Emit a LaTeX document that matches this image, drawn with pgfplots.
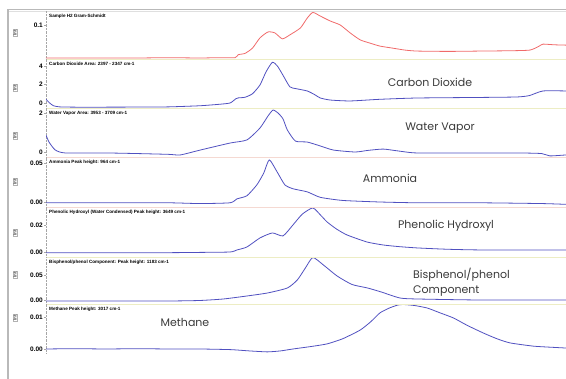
\documentclass[border=0pt]{standalone}
\usepackage{pgfplots}
\pgfplotsset{compat=1.18}
\usepackage{fontspec}
\setmainfont{Liberation Sans}
\newfontfamily\labfont{Poppins}
\definecolor{tr}{HTML}{F06A6A}
\definecolor{tb}{HTML}{5050C0}
\definecolor{sepy}{HTML}{EDEDC4}
\definecolor{sepp}{HTML}{F5D9D2}
\definecolor{lab}{HTML}{3A3A3A}

\pgfplotsset{
  panel/.style={
    scale only axis, width=520pt, anchor=south west,
    xmin=0.3, xmax=83.9,
    axis x line=none, axis y line*=left,
    y axis line style={gray!70, densely dotted},
    ytick style={gray!70, thin},
    tick align=outside, major tick length=2pt,
    scaled y ticks=false,
    /pgf/number format/assume math mode=true,
    yticklabel style={font=\fontsize{6.5}{7}\selectfont\bfseries, inner sep=1pt},
    every axis plot/.append style={line width=0.8pt, smooth, tension=0.35},
    clip=true,
  },
}
\tikzset{ptitle/.style={anchor=north west, font=\fontsize{4.6}{5}\selectfont\bfseries, inner sep=0pt, xshift=3pt, yshift=-3pt}}

\begin{document}
\begin{tikzpicture}[x=1pt,y=1pt]
\path[use as bounding box] (0,0) rectangle (566,379);
% window frame
\draw[gray!55, line width=1.6pt] (8,0) -- (8,369.5) -- (566,369.5);
\draw[gray!25, line width=0.6pt] (9,367.8) -- (566,367.8);

% Panel 1
\begin{axis}[panel, at={(46pt,320pt)}, height=48pt, ymin=-0.003, ymax=0.1424,
  ytick={0.1}, yticklabels={0.1}]
\addplot[tr] coordinates {
(0.3,0.000) (5,0.000) (10,0.000) (15,0.000) (20,0.001) (25,0.000) (28,0.001) (30.7,0.001)
(31.2,0.010) (32.3,0.014) (33.5,0.030) (34.7,0.061) (36.0,0.079) (37.1,0.076) (38.3,0.058)
(39.5,0.070) (41.2,0.091) (42.3,0.121) (43.2,0.138) (44.4,0.127) (46.0,0.112) (47.6,0.100)
(49.2,0.076) (50.8,0.055) (52.4,0.045) (54.0,0.036) (56.0,0.030) (58.0,0.024) (60.0,0.021)
(65,0.020) (70,0.021) (75,0.022) (78.1,0.024) (79.5,0.035) (80.2,0.042) (82,0.040) (83.9,0.039)};
\node[ptitle] at (rel axis cs:0,1) {Sample H2 Gram-Schmidt};
\end{axis}

% Panel 2
\begin{axis}[panel, at={(46pt,271pt)}, height=49pt, ymin=-0.541, ymax=4.757,
  ytick={0,2,4}, yticklabels={0,2,4}]
\addplot[tb] coordinates {
(0.3,0.40) (0.8,0.05) (1.5,-0.30) (2.5,-0.42) (5,-0.45) (10,-0.45) (15,-0.44) (20,-0.42)
(25,-0.30) (28,-0.15) (29.9,0.00) (30.8,0.45) (31.2,0.55) (32.3,0.62) (33.5,1.00) (34.7,1.95)
(35.7,3.40) (36.7,4.40) (37.5,4.00) (38.4,3.00) (39.5,1.75) (40.5,1.55) (42.3,1.30) (43.5,0.90)
(44.4,0.54) (46.0,0.32) (49.2,0.22) (54,0.40) (60,0.54) (70,0.60) (76,0.65) (78,0.80)
(80.2,1.30) (83.9,1.30)};
\node[ptitle] at (rel axis cs:0,1) {Carbon Dioxide Area: 2397 - 2347 cm-1};
\end{axis}

% Panel 3
\begin{axis}[panel, at={(46pt,222pt)}, height=49pt, ymin=-0.256, ymax=2.256,
  ytick={0,2}, yticklabels={0,2}]
\addplot[tb] coordinates {
(0.3,0.87) (0.8,0.50) (1.8,0.10) (3.4,-0.05) (10,-0.05) (15,-0.08) (20,-0.12) (21.9,-0.15)
(25.1,0.10) (29.9,0.46) (32.6,0.62) (34.7,1.23) (36.0,1.85) (36.8,2.15) (37.6,2.00) (38.4,1.70)
(39.1,1.13) (40.4,0.56) (42.3,0.51) (44.4,0.31) (46.5,0.10) (50,0.00) (52,0.08) (54.5,0.15)
(57,0.05) (60,-0.05) (70,-0.05) (76.5,-0.05) (80,-0.08) (81.3,-0.20) (83.9,-0.15)};
\node[ptitle] at (rel axis cs:0,1) {Water Vapor Area: 3953 - 3709 cm-1};
\end{axis}

% Panel 4
\begin{axis}[panel, at={(46pt,172pt)}, height=50pt, ymin=-0.0064, ymax=0.0577,
  ytick={0,0.05}, yticklabels={0.00,0.05}]
\addplot[tb] coordinates {
(0.3,-0.001) (10,-0.001) (20,-0.001) (25,-0.002) (29.9,-0.001) (31.0,0.004) (32.6,0.008)
(34.2,0.022) (35.3,0.037) (36.2,0.054) (37.5,0.038) (38.7,0.022) (40.0,0.017) (42.3,0.013)
(44.4,0.006) (48,0.002) (54,0.000) (60,-0.001) (70,-0.001) (80,-0.002) (83.9,-0.003)};
\node[ptitle] at (rel axis cs:0,1) {Ammonia Peak height: 964 cm-1};
\end{axis}

% Panel 5
\begin{axis}[panel, at={(46pt,122pt)}, height=50pt, ymin=-0.0037, ymax=0.0333,
  ytick={0,0.02}, yticklabels={0.00,0.02}]
\addplot[tb] coordinates {
(0.3,-0.0005) (10,-0.0005) (20,-0.0005) (25,-0.0003) (29.9,0.0000) (31,0.0015) (32.6,0.0037)
(34.7,0.0104) (36.7,0.0141) (38.4,0.0119) (40.0,0.0200) (41.5,0.0280) (43.2,0.0326)
(44.5,0.0270) (45.5,0.0222) (47,0.0170) (48.7,0.0126) (51.9,0.0074) (54.5,0.0052)
(57,0.0040) (60,0.0030) (65,0.0020) (70.6,0.0015) (83.9,0.0015)};
\node[ptitle] at (rel axis cs:0,1) {Phenolic Hydroxyl (Water Condensed) Peak height: 3649 cm-1};
\end{axis}

% Panel 6
\begin{axis}[panel, at={(46pt,75pt)}, height=47pt, ymin=-0.008, ymax=0.086,
  ytick={0,0.05}, yticklabels={0.00,0.05}]
\addplot[tb] coordinates {
(0.3,-0.002) (10,-0.002) (20,-0.002) (25,-0.001) (28.8,0.002) (32.6,0.008) (35.9,0.014)
(39.1,0.024) (40.7,0.040) (42.0,0.064) (43.2,0.085) (44.9,0.070) (47.1,0.048) (49.5,0.031)
(52,0.024) (54.2,0.016) (57.2,0.004) (60,0.002) (70,0.000) (83.9,0.000)};
\node[ptitle] at (rel axis cs:0,1) {Bisphenol/phenol Component: Peak height: 1183 cm-1};
\end{axis}

% Panel 7
\begin{axis}[panel, at={(46pt,26pt)}, height=49pt, ymin=-0.00125, ymax=0.01406,
  ytick={0,0.01}, yticklabels={0.00,0.01},
  axis x line*=bottom, x axis line style={gray!80},
  xtick={10,20,...,80}, minor x tick num=3, xtick style={gray!80, thin},
  minor tick length=1.5pt,
  xticklabel style={font=\fontsize{6.5}{7}\selectfont\bfseries, inner sep=1pt, yshift=-2pt},
  xlabel={Time (minutes)},
  xlabel style={font=\fontsize{6.5}{7}\selectfont\bfseries, yshift=6pt}]
\addplot[tb] coordinates {
(0.3,0.0000) (5,0.0001) (10,0.0000) (15,0.0001) (20,0.0000) (25,0.0000) (30,-0.0002)
(33,-0.0006) (35.9,-0.0009) (38,-0.0006) (40,0.0000) (43,0.0008) (45.5,0.0016) (48,0.0032)
(50.8,0.0059) (52.5,0.0085) (54.0,0.0113) (55.5,0.0128) (56.8,0.0137) (57.7,0.0139)
(59.5,0.0136) (61.6,0.0128) (63.5,0.0114) (65.8,0.0097) (68,0.0074) (70.6,0.0050)
(72.8,0.0032) (74.9,0.0019) (78.6,0.0009) (81,0.0006) (83.9,0.0003)};
\node[ptitle] at (rel axis cs:0,1) {Methane Peak height: 3017 cm-1};
\end{axis}

% panel separators
\draw[sepy, line width=0.8pt] (47,320) -- (566,320);
\draw[sepy, line width=0.8pt] (47,271) -- (566,271);
\draw[sepp, line width=0.8pt] (47,222) -- (566,222);
\draw[sepp, line width=0.8pt] (47,172) -- (566,172);
\draw[sepy, line width=0.8pt] (47,122) -- (566,122);
\draw[sepy, line width=0.8pt] (47,75) -- (566,75);

% rotated y labels
\foreach \yy in {346,291,243,197,146,104,61}
  \node[rotate=90, font=\fontsize{4.5}{5}\selectfont\bfseries, text=gray!70!black, inner sep=0.6pt, draw=gray!60, line width=0.3pt] at (15,\yy) {Int};

% big labels
\begin{scope}[every node/.style={font=\labfont\fontsize{11}{13}\selectfont, text=lab, inner sep=0pt}]
\node at (430,297) {Carbon Dioxide};
\node at (440,251) {Water Vapor};
\node at (390,201) {Ammonia};
\node at (446,153) {Phenolic Hydroxyl};
\node[anchor=west] at (413,104) {Bisphenol/phenol};
\node[anchor=west] at (413,88) {Component};
\node at (185,57) {Methane};
\end{scope}
\end{tikzpicture}
\end{document}
